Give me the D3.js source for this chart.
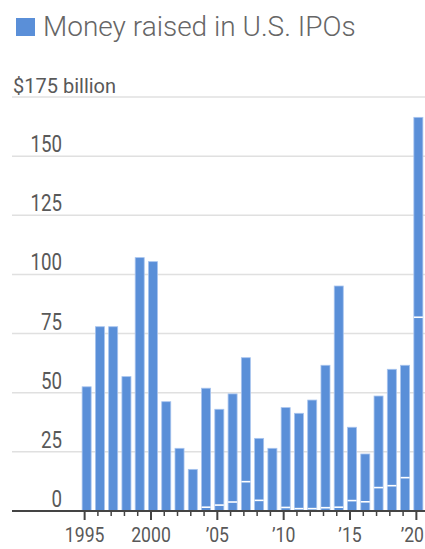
<!DOCTYPE html>
<html>
<head>
<meta charset="utf-8">
<script src="https://cdn.jsdelivr.net/npm/d3@7"></script>
<style>
  html, body { margin: 0; padding: 0; background: #fff; }
  svg { display: block; }
  text { font-family: "Roboto", "Liberation Sans", sans-serif; }
</style>
</head>
<body>
<svg id="chart" width="425" height="549"></svg>
<script>
// Money raised in U.S. IPOs, $ billions, with the SPAC portion shown as a base segment
const years = d3.range(1995, 2021);
const totals = [52.5, 77.9, 77.9, 56.8, 107.1, 105.4, 46.2, 26.5, 17.6, 51.9,
                43.0, 49.5, 64.8, 30.7, 26.5, 43.7, 41.3, 46.9, 61.6, 95.1,
                35.4, 24.1, 48.6, 59.9, 61.6, 166.4];
const spac = [0, 0, 0, 0, 0, 0, 0, 0, 0, 1.6,
              2.5, 3.8, 12.4, 4.5, 0, 1.5, 1.0, 1.0, 1.4, 1.6,
              4.4, 3.9, 9.9, 10.7, 14.1, 81.9];
const yTicks = [0, 25, 50, 75, 100, 125, 150, 175];
const xLabelYears = [1995, 2000, 2005, 2010, 2015, 2020];
const xLabels = ["1995", "2000", "\u201905", "\u201910", "\u201915", "\u201920"];

const barColor = "#5a8fd8";
const labelColor = "#595959";
const narrow = 0.78; // horizontal squeeze for the condensed tick numerals
const svg = d3.select("#chart");

const x = d3.scaleBand().domain(years).range([80, 425]).paddingInner(0.32).paddingOuter(0.16);
const y = d3.scaleLinear().domain([0, 175]).range([511, 97]);
const left = 12, right = 425;

// Legend / title
svg.append("rect").attr("x", 16).attr("y", 18).attr("width", 19).attr("height", 18).attr("fill", barColor);
svg.append("text").attr("x", 43).attr("y", 36)
  .attr("font-size", 28).attr("font-weight", 300).attr("fill", "#666")
  .text("Money raised in U.S. IPOs");

// Gridlines
svg.append("g").selectAll("line").data(yTicks.filter(d => d > 0)).join("line")
  .attr("x1", left).attr("x2", right)
  .attr("y1", d => y(d)).attr("y2", d => y(d))
  .attr("stroke", "#e0e0e0").attr("stroke-width", 1.5);

// Y labels: top one carries the unit
svg.append("text").attr("x", 13).attr("y", y(175) - 4)
  .attr("font-size", 20).attr("fill", labelColor)
  .text("$175 billion");

svg.append("g").selectAll("text").data(yTicks.filter(d => d < 175)).join("text")
  .attr("transform", d => `translate(62,${y(d) - 4}) scale(${narrow},1)`)
  .attr("text-anchor", "end")
  .attr("font-size", 24)
  .attr("fill", labelColor)
  .text(d => d);

// Bars
const data = years.map((yr, i) => ({ year: yr, total: totals[i], spac: spac[i] }));
const bars = svg.append("g");
bars.selectAll("rect").data(data).join("rect")
  .attr("x", d => x(d.year))
  .attr("width", x.bandwidth())
  .attr("y", d => y(d.total))
  .attr("height", d => y(0) - y(d.total))
  .attr("fill", barColor)
  .attr("stroke", "#a8c4ee").attr("stroke-width", 0.8);

// Separator between SPAC segment and the rest
bars.selectAll("line").data(data.filter(d => d.spac > 0)).join("line")
  .attr("x1", d => x(d.year)).attr("x2", d => x(d.year) + x.bandwidth())
  .attr("y1", d => y(d.spac)).attr("y2", d => y(d.spac))
  .attr("stroke", "#fff").attr("stroke-width", 1.6);

// Baseline and ticks
svg.append("line").attr("x1", left).attr("x2", right)
  .attr("y1", y(0)).attr("y2", y(0))
  .attr("stroke", "#444").attr("stroke-width", 2);

const tx = d => x(d) + x.bandwidth() / 2 - 2;
svg.append("g").selectAll("line").data(years).join("line")
  .attr("x1", tx).attr("x2", tx)
  .attr("y1", y(0))
  .attr("y2", d => y(0) + (xLabelYears.includes(d) ? 9 : 5))
  .attr("stroke", "#444").attr("stroke-width", d => xLabelYears.includes(d) ? 2 : 1.5);

// Year labels; the last one is right-aligned so it stays inside the frame
const lastYear = xLabelYears[xLabelYears.length - 1];
svg.append("g").selectAll("text").data(xLabelYears).join("text")
  .attr("transform", d => `translate(${d === lastYear ? right - 1 : tx(d)},542) scale(0.84,1)`)
  .attr("text-anchor", d => d === lastYear ? "end" : "middle")
  .attr("font-size", 21)
  .attr("fill", labelColor)
  .text((d, i) => xLabels[i]);
</script>
</body>
</html>
